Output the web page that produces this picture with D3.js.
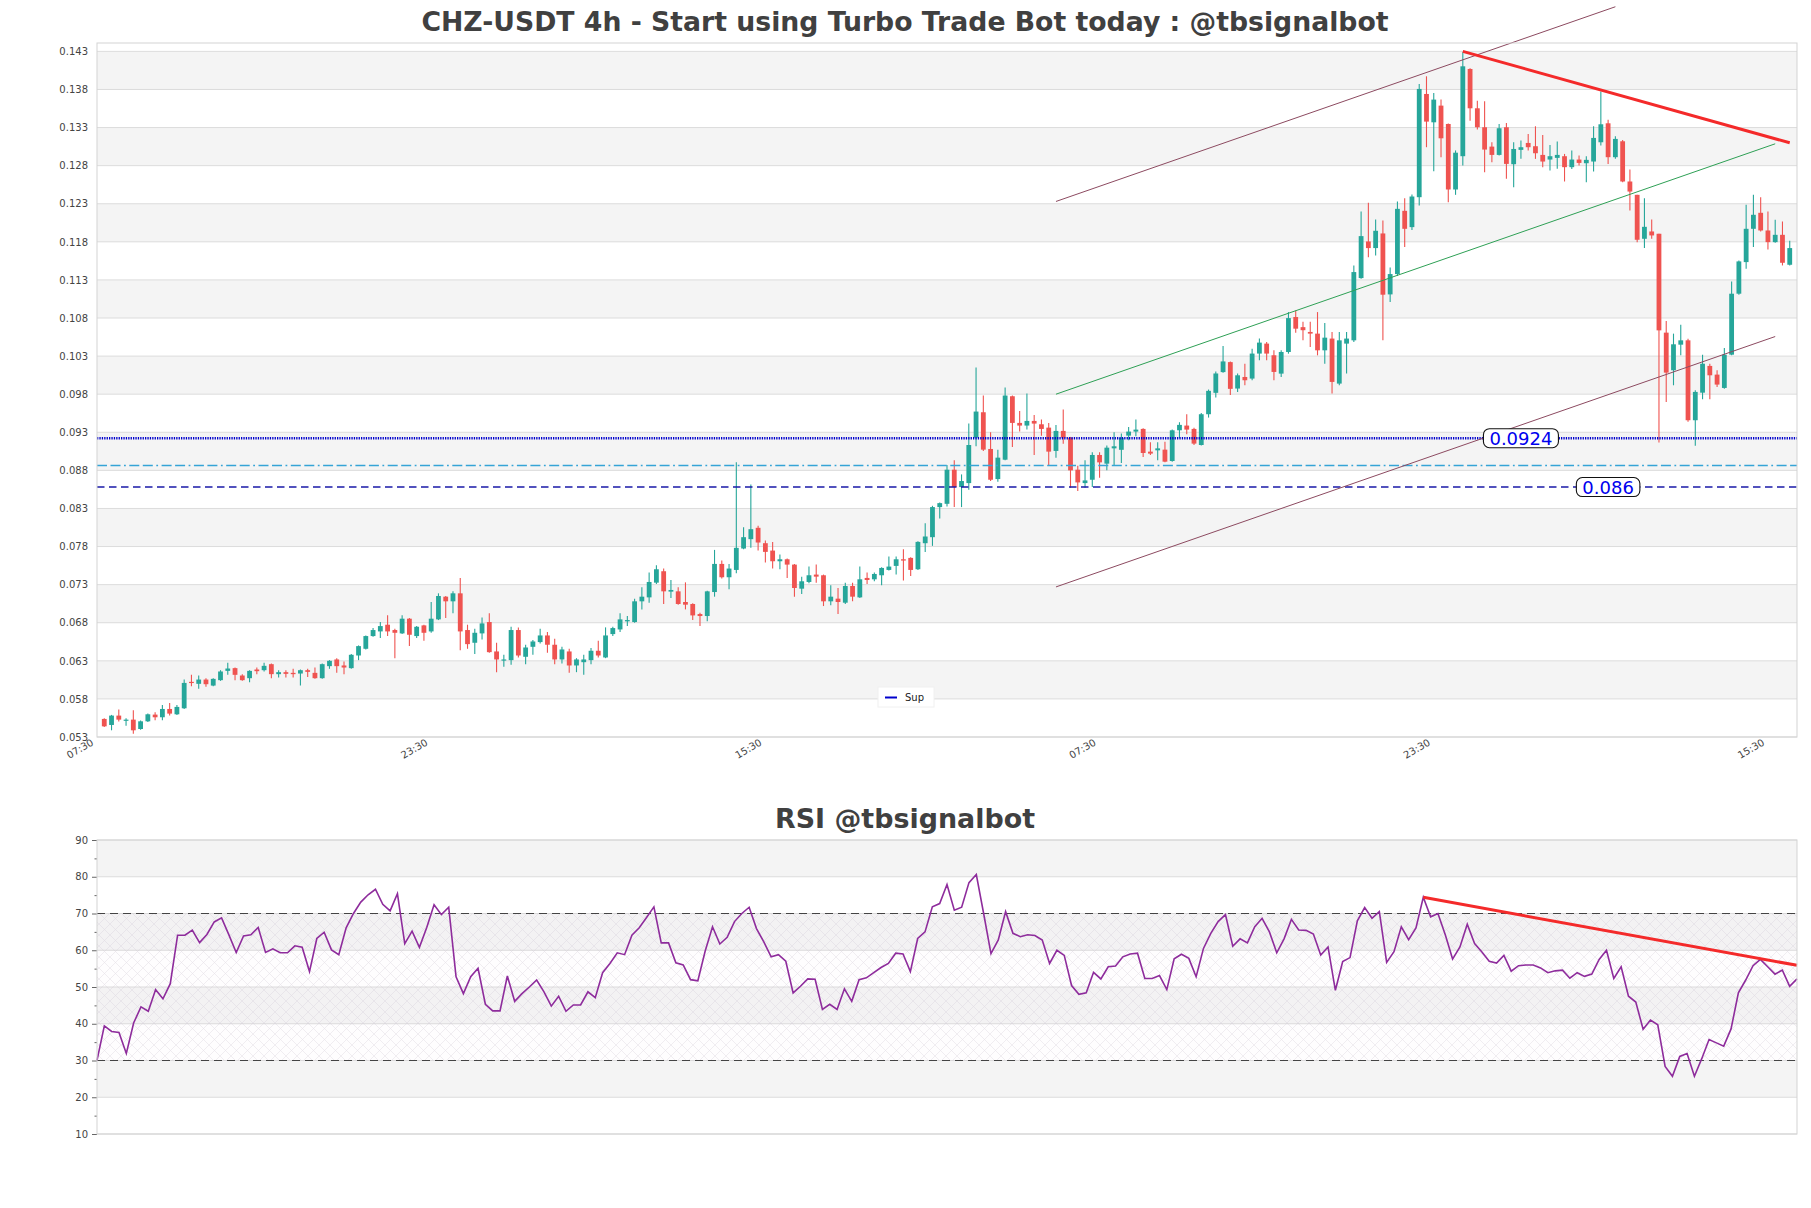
<!DOCTYPE html>
<html><head><meta charset="utf-8">
<script src="https://cdn.jsdelivr.net/npm/d3@7"></script>
<style>body{margin:0;background:#fff}svg{display:block}text{font-family:"DejaVu Sans",sans-serif}</style>
</head><body><svg id="chart" width="1811" height="1208"></svg>
<script>
const titleMain = "CHZ-USDT 4h - Start using Turbo Trade Bot today : @tbsignalbot";
const titleRsi = "RSI @tbsignalbot";
const priceTicks = [0.053,0.058,0.063,0.068,0.073,0.078,0.083,0.088,0.093,0.098,0.103,0.108,0.113,0.118,0.123,0.128,0.133,0.138,0.143];
const rsiTicks = [10,20,30,40,50,60,70,80,90];
const rsiMinorTicks = [15,25,35,45,55,65,75,85];
const xTickIndex = [-1,45,91,137,183,229];
const xTickLabels = ["07:30","23:30","15:30","07:30","23:30","15:30"];

const open = [0.05537,0.05458,0.05581,0.05515,0.05528,0.05405,0.05506,0.05594,0.05559,0.05668,0.05598,0.05677,0.06024,0.05998,0.06054,0.05975,0.06046,0.06168,0.06204,0.06107,0.06072,0.06186,0.06177,0.06256,0.06125,0.06151,0.06142,0.06133,0.06177,0.06142,0.06072,0.06230,0.06318,0.06239,0.06204,0.06370,0.06458,0.06625,0.06686,0.06774,0.06704,0.06660,0.06853,0.06625,0.06765,0.06686,0.06844,0.07142,0.07081,0.07186,0.06704,0.06537,0.06660,0.06809,0.06423,0.06304,0.06309,0.06704,0.06353,0.06484,0.06546,0.06633,0.06511,0.06318,0.06423,0.06239,0.06282,0.06309,0.06432,0.06344,0.06651,0.06712,0.06818,0.06809,0.07081,0.07133,0.07326,0.07476,0.07208,0.07212,0.07072,0.07046,0.06914,0.06888,0.07203,0.07572,0.07397,0.07493,0.07774,0.07897,0.08046,0.07844,0.07747,0.07607,0.07633,0.07563,0.07247,0.07335,0.07432,0.07423,0.07081,0.07116,0.07063,0.07282,0.07133,0.07388,0.07370,0.07423,0.07493,0.07546,0.07633,0.07651,0.07502,0.07844,0.07923,0.08318,0.08361,0.08809,0.08581,0.08633,0.09230,0.09563,0.09081,0.08686,0.08940,0.09773,0.09423,0.09388,0.09449,0.09405,0.09361,0.09055,0.09318,0.09230,0.08809,0.08633,0.08677,0.09002,0.08888,0.09089,0.09070,0.09256,0.09309,0.09344,0.09046,0.09063,0.09072,0.08923,0.09326,0.09388,0.09344,0.09133,0.09537,0.09818,0.10090,0.10221,0.09874,0.10026,0.10005,0.10333,0.10464,0.10311,0.10070,0.10354,0.10813,0.10680,0.10617,0.10595,0.10376,0.10530,0.09939,0.10464,0.10507,0.11324,0.11805,0.11718,0.11910,0.11110,0.11377,0.12207,0.11993,0.12386,0.13741,0.13369,0.13588,0.13347,0.12487,0.12924,0.14069,0.13553,0.13304,0.13050,0.12941,0.13304,0.12819,0.13007,0.13098,0.13055,0.12941,0.12880,0.12902,0.12924,0.12780,0.12880,0.12832,0.12854,0.13107,0.13356,0.12911,0.13120,0.12592,0.12417,0.11840,0.11936,0.11906,0.10608,0.10114,0.10450,0.10507,0.09458,0.09820,0.10171,0.10057,0.09882,0.10319,0.11119,0.11534,0.11971,0.12181,0.11949,0.11796,0.11892,0.11499];
const high = [0.05546,0.05590,0.05660,0.05546,0.05651,0.05515,0.05607,0.05625,0.05721,0.05747,0.05721,0.06054,0.06116,0.06107,0.06072,0.06072,0.06177,0.06274,0.06212,0.06125,0.06177,0.06212,0.06274,0.06265,0.06177,0.06177,0.06195,0.06186,0.06195,0.06212,0.06265,0.06309,0.06335,0.06291,0.06388,0.06502,0.06633,0.06730,0.06809,0.06897,0.06721,0.06897,0.06861,0.06756,0.06774,0.07072,0.07186,0.07151,0.07212,0.07388,0.06774,0.06721,0.06870,0.06923,0.06537,0.06379,0.06747,0.06739,0.06511,0.06572,0.06721,0.06677,0.06590,0.06484,0.06458,0.06335,0.06379,0.06467,0.06563,0.06739,0.06747,0.06923,0.06888,0.07116,0.07265,0.07458,0.07554,0.07511,0.07361,0.07265,0.07330,0.07055,0.06932,0.07221,0.07756,0.07616,0.07572,0.08905,0.08054,0.08616,0.08072,0.07879,0.07861,0.07695,0.07642,0.07572,0.07405,0.07537,0.07563,0.07432,0.07291,0.07256,0.07326,0.07326,0.07537,0.07458,0.07458,0.07528,0.07668,0.07668,0.07765,0.07660,0.07870,0.08107,0.08335,0.08379,0.08870,0.08932,0.08747,0.09414,0.10151,0.09782,0.09300,0.09072,0.09888,0.09782,0.09580,0.09809,0.09528,0.09467,0.09423,0.09397,0.09598,0.09239,0.08861,0.08932,0.09037,0.09037,0.09125,0.09300,0.09283,0.09370,0.09467,0.09353,0.09168,0.09168,0.09177,0.09335,0.09432,0.09537,0.09361,0.09554,0.09861,0.10098,0.10432,0.10230,0.10070,0.10201,0.10398,0.10530,0.10485,0.10376,0.10376,0.10878,0.10900,0.10750,0.10750,0.10878,0.10734,0.10617,0.10617,0.10617,0.11490,0.12198,0.12312,0.12094,0.12080,0.11464,0.12329,0.12373,0.12421,0.13872,0.13973,0.13754,0.13667,0.13352,0.13000,0.14287,0.14077,0.13653,0.13646,0.13107,0.13348,0.13361,0.13107,0.13129,0.13216,0.13317,0.13203,0.13072,0.13116,0.12954,0.13000,0.12932,0.12924,0.13317,0.13772,0.13404,0.13186,0.13138,0.12749,0.12417,0.12373,0.12094,0.11906,0.10760,0.10595,0.10712,0.10529,0.09852,0.10319,0.10201,0.10114,0.10406,0.11280,0.11556,0.12286,0.12417,0.12386,0.12198,0.12089,0.12067,0.11814];
const low = [0.05432,0.05388,0.05502,0.05449,0.05344,0.05396,0.05497,0.05519,0.05519,0.05581,0.05590,0.05668,0.05967,0.05932,0.05958,0.05967,0.06037,0.06116,0.06046,0.06037,0.06020,0.06125,0.06160,0.06072,0.06081,0.06081,0.06081,0.05975,0.06089,0.06063,0.06063,0.06195,0.06142,0.06125,0.06195,0.06309,0.06449,0.06616,0.06598,0.06625,0.06335,0.06651,0.06493,0.06598,0.06563,0.06668,0.06835,0.06861,0.06923,0.06440,0.06458,0.06388,0.06581,0.06405,0.06151,0.06221,0.06247,0.06344,0.06256,0.06379,0.06528,0.06405,0.06256,0.06265,0.06142,0.06151,0.06116,0.06256,0.06344,0.06335,0.06625,0.06677,0.06756,0.06800,0.06975,0.07063,0.07309,0.07046,0.07125,0.07037,0.06975,0.06835,0.06756,0.06818,0.07142,0.07380,0.07239,0.07449,0.07765,0.07783,0.07747,0.07589,0.07511,0.07502,0.07388,0.07142,0.07177,0.07318,0.07326,0.07019,0.07028,0.06914,0.07046,0.07081,0.07125,0.07309,0.07344,0.07291,0.07484,0.07432,0.07353,0.07414,0.07493,0.07730,0.07809,0.08168,0.08326,0.08318,0.08318,0.08546,0.09116,0.09055,0.08660,0.08650,0.08932,0.09107,0.09309,0.09335,0.09002,0.09256,0.08861,0.08967,0.09151,0.08572,0.08528,0.08572,0.08581,0.08704,0.08800,0.08861,0.08897,0.09195,0.09247,0.08976,0.09002,0.08932,0.08905,0.08914,0.09221,0.09274,0.09133,0.09125,0.09493,0.09756,0.10081,0.09791,0.09830,0.09917,0.09983,0.10245,0.10245,0.09983,0.10026,0.10332,0.10608,0.10507,0.10420,0.10310,0.10201,0.09808,0.09917,0.10070,0.10485,0.11316,0.11599,0.11621,0.10507,0.11009,0.11351,0.11731,0.11954,0.12277,0.13042,0.12727,0.12910,0.12321,0.12417,0.12801,0.13391,0.13273,0.12714,0.12845,0.12932,0.12627,0.12517,0.12889,0.12998,0.12889,0.12779,0.12736,0.12758,0.12592,0.12757,0.12801,0.12583,0.12723,0.13064,0.12823,0.12889,0.12583,0.12211,0.11796,0.11718,0.11840,0.09165,0.09699,0.09917,0.10310,0.09437,0.09122,0.09733,0.09733,0.09895,0.09873,0.10310,0.11106,0.11447,0.11731,0.11936,0.11700,0.11787,0.11490,0.11490];
const close = [0.05440,0.05581,0.05528,0.05528,0.05388,0.05506,0.05598,0.05559,0.05668,0.05607,0.05695,0.06010,0.06010,0.06054,0.05993,0.06063,0.06160,0.06199,0.06116,0.06046,0.06168,0.06164,0.06234,0.06125,0.06151,0.06129,0.06125,0.06177,0.06155,0.06072,0.06256,0.06300,0.06230,0.06212,0.06379,0.06493,0.06625,0.06704,0.06756,0.06686,0.06668,0.06853,0.06642,0.06747,0.06668,0.06853,0.07151,0.07081,0.07186,0.06686,0.06519,0.06668,0.06791,0.06414,0.06318,0.06318,0.06704,0.06370,0.06475,0.06554,0.06633,0.06511,0.06318,0.06449,0.06239,0.06318,0.06318,0.06432,0.06370,0.06633,0.06730,0.06844,0.06835,0.07081,0.07142,0.07335,0.07502,0.07212,0.07230,0.07046,0.07037,0.06896,0.06888,0.07212,0.07572,0.07397,0.07511,0.07783,0.07923,0.08028,0.07853,0.07730,0.07607,0.07633,0.07563,0.07256,0.07344,0.07423,0.07405,0.07081,0.07142,0.07072,0.07282,0.07142,0.07370,0.07361,0.07440,0.07519,0.07537,0.07633,0.07616,0.07493,0.07861,0.07932,0.08318,0.08370,0.08809,0.08581,0.08660,0.09133,0.09572,0.09072,0.08677,0.08967,0.09782,0.09423,0.09388,0.09449,0.09414,0.09344,0.09046,0.09318,0.09230,0.08800,0.08642,0.08668,0.09002,0.08905,0.09098,0.09116,0.09228,0.09309,0.09335,0.09028,0.09020,0.09089,0.08914,0.09326,0.09397,0.09335,0.09151,0.09537,0.09844,0.10072,0.10230,0.09870,0.10048,0.09983,0.10333,0.10477,0.10333,0.10092,0.10354,0.10799,0.10660,0.10640,0.10595,0.10376,0.10542,0.09961,0.10507,0.10530,0.11403,0.11875,0.11718,0.11945,0.11106,0.11377,0.12233,0.11971,0.12395,0.13807,0.13378,0.13667,0.13159,0.12487,0.12970,0.14104,0.13553,0.13304,0.13011,0.12941,0.13291,0.12823,0.13019,0.13042,0.13042,0.12963,0.12854,0.12924,0.12941,0.12780,0.12880,0.12836,0.12876,0.13164,0.13343,0.12911,0.13151,0.12592,0.12460,0.11827,0.11997,0.11884,0.10638,0.10083,0.10455,0.10507,0.09458,0.09830,0.10200,0.10048,0.09926,0.10319,0.11119,0.11543,0.11971,0.12155,0.11949,0.11796,0.11892,0.11525,0.11718];

const rsi = [30.05,39.4,37.9,37.6,31.9,40.2,44.6,43.4,49.3,46.8,50.9,64.1,64.1,65.5,62.1,64.3,67.7,68.8,64.2,59.4,63.9,64.2,66.2,59.4,60.4,59.3,59.3,61.2,60.8,54.2,63.2,64.9,60.1,58.8,66.1,70.0,73.1,75.1,76.6,72.5,70.7,75.4,61.8,65.2,60.8,66.2,72.4,69.7,71.7,52.8,48.2,52.8,55.1,45.3,43.5,43.5,53.0,46.1,48.2,50.0,51.9,48.7,44.8,47.5,43.4,45.1,45.1,48.7,47.1,53.9,56.4,59.3,
58.8,64.1,66.1,68.9,71.8,62.0,62.0,56.6,56.0,52.0,51.7,59.8,66.4,61.7,63.5,67.8,70.0,71.7,65.9,62.3,58.2,58.8,57.0,48.4,50.2,52.2,52.1,43.9,45.3,43.9,49.5,46.1,52.0,52.5,53.9,55.3,56.4,59.2,59.0,54.2,63.2,65.0,71.8,72.7,77.9,70.9,71.7,78.4,80.6,70.0,59.1,62.8,70.5,64.6,63.7,64.2,64.0,62.8,56.4,60.0,58.6,50.4,48.0,48.4,54.0,52.2,55.5,55.7,58.2,59.0,59.2,52.3,52.3,53.1,49.3,57.7,58.9,57.8,52.8,
60.5,64.6,67.8,69.7,61.1,63.1,62.0,66.4,68.7,65.0,59.3,63.1,68.4,65.5,65.4,64.4,58.7,60.9,49.1,56.9,58.0,68.0,71.6,68.7,70.5,56.7,59.6,66.4,62.9,66.1,74.4,69.1,70.0,64.2,57.6,60.9,67.1,61.8,59.5,57.0,56.5,58.6,54.3,55.8,56.0,56.0,55.2,53.9,54.4,54.6,52.4,53.9,52.9,53.5,57.5,60.0,52.3,55.5,47.5,45.9,38.5,41.0,39.7,28.4,25.7,31.1,31.9,25.7,30.5,35.7,34.8,33.9,38.6,48.4,51.9,55.8,57.5,55.5,53.5,54.6,50.2,52.2];

// horizontal levels as placed on the drawn axis, with their printed labels
const levelValues = [0.09222, 0.08863, 0.08581];
const levelLabels = ["0.0924", null, "0.086"];
const levelLabelIndex = [195, null, 207];
const channelUpper = [[131, 0.1233], [208, 0.14886]];
const channelMid = [[131, 0.0980], [230, 0.13087]];
const channelLower = [[131, 0.0727], [230, 0.10557]];
const priceTrend = [[187, 0.1430], [232, 0.1310]];
const rsiTrend = [[181, 74.4], [232, 55.9]];
const rsiBandLevels = [30, 70];

const W = 1811, H = 1208;
const M = {l: 97, r: 1797, t: 43, b: 737};
const R = {l: 97, r: 1797, t: 840, b: 1134};
const GREEN = "#26a69a", RED = "#ef5350";

const svg = d3.select("#chart");
svg.append("rect").attr("width", W).attr("height", H).attr("fill", "#fff");

const x = d3.scaleLinear().domain([-1, open.length]).range([M.l, M.r]);
const y = d3.scaleLinear().domain([0.053, 0.1441]).range([M.b, M.t]);
const xr = d3.scaleLinear().domain([0, rsi.length - 1]).range([R.l, R.r]);
const yr = d3.scaleLinear().domain([10, 90]).range([R.b, R.t]);

// Titles
svg.append("text").attr("x", 905).attr("y", 31).attr("text-anchor", "middle")
  .attr("font-size", 26.7).attr("font-weight", "bold").attr("fill", "#404040").text(titleMain);
svg.append("text").attr("x", 905).attr("y", 828).attr("text-anchor", "middle")
  .attr("font-size", 26.9).attr("font-weight", "bold").attr("fill", "#404040").text(titleRsi);

// ---------- main panel ----------
const gm = svg.append("g");
const bandPairs = d3.pairs(priceTicks).map((p, k) => ({lo: p[0], hi: p[1], k}));
gm.selectAll("rect.band").data(bandPairs.filter(d => d.k % 2 === 1)).join("rect")
  .attr("x", M.l).attr("width", M.r - M.l)
  .attr("y", d => y(d.hi)).attr("height", d => y(d.lo) - y(d.hi)).attr("fill", "#f4f4f4");
gm.selectAll("line.grid").data(priceTicks).join("line")
  .attr("x1", M.l).attr("x2", M.r).attr("y1", d => y(d)).attr("y2", d => y(d))
  .attr("stroke", "#dcdcdc").attr("stroke-width", 1);

// y axis
const yAxis = d3.axisLeft(y).tickValues(priceTicks).tickFormat(d3.format(".3f")).tickSize(0).tickPadding(9);
const gy = svg.append("g").attr("transform", `translate(${M.l},0)`).call(yAxis);
gy.select(".domain").remove();
gy.selectAll("text").attr("font-size", 10).attr("fill", "#444").attr("font-family", "DejaVu Sans");

// x axis
const xAxis = d3.axisBottom(x).tickValues(xTickIndex).tickFormat((d, k) => xTickLabels[k]).tickSize(0);
const gx = svg.append("g").attr("transform", `translate(0,${M.b})`).call(xAxis);
gx.select(".domain").remove();
gx.selectAll("text").attr("font-size", 10).attr("fill", "#444").attr("font-family", "DejaVu Sans")
  .attr("text-anchor", "end").attr("x", 0).attr("y", 0).attr("dy", "0.75em")
  .attr("transform", "translate(-7,1) rotate(-30)");

// candles
const idx = d3.range(open.length);
const bw = 4.8;
const gc = gm.append("g");
gc.selectAll("line.wick").data(idx).join("line")
  .attr("x1", i => x(i)).attr("x2", i => x(i))
  .attr("y1", i => y(high[i])).attr("y2", i => y(low[i]))
  .attr("stroke", i => close[i] >= open[i] ? GREEN : RED).attr("stroke-width", 1.1);
gc.selectAll("rect.body").data(idx).join("rect")
  .attr("x", i => x(i) - bw / 2).attr("width", bw)
  .attr("y", i => y(Math.max(open[i], close[i])))
  .attr("height", i => Math.max(1.2, Math.abs(y(open[i]) - y(close[i]))))
  .attr("fill", i => close[i] >= open[i] ? GREEN : RED);

// level lines
const levelStyles = [
  {stroke: "#0000cc", width: 2.4, dash: "1.3,1.1"},
  {stroke: "#35a4d6", width: 1.4, dash: "10,3.5,10,3.5,1.8,3.5"},
  {stroke: "#1a1aa8", width: 1.4, dash: "7.5,4.5"}
];
gm.selectAll("line.level").data(levelValues).join("line")
  .attr("x1", M.l).attr("x2", M.r).attr("y1", d => y(d)).attr("y2", d => y(d))
  .attr("stroke", (d, k) => levelStyles[k].stroke).attr("stroke-width", (d, k) => levelStyles[k].width)
  .attr("stroke-dasharray", (d, k) => levelStyles[k].dash);

// channel & trend lines
const line = d3.line().x(d => x(d[0])).y(d => y(d[1]));
gm.append("path").attr("d", line(channelUpper)).attr("stroke", "#8c4a60").attr("stroke-width", 1).attr("fill", "none");
gm.append("path").attr("d", line(channelLower)).attr("stroke", "#8c4a60").attr("stroke-width", 1).attr("fill", "none");
gm.append("path").attr("d", line(channelMid)).attr("stroke", "#2ea055").attr("stroke-width", 1).attr("fill", "none");
gm.append("path").attr("d", line(priceTrend)).attr("stroke", "#f42a2a").attr("stroke-width", 3).attr("fill", "none");

// level labels
levelValues.forEach((v, k) => {
  if (!levelLabels[k]) return;
  const cx = x(levelLabelIndex[k]), cy = y(v);
  const t = gm.append("text").attr("x", cx).attr("y", cy).attr("dy", "0.36em").attr("text-anchor", "middle")
    .attr("font-size", 18).attr("fill", "#0000ee").text(levelLabels[k]);
  const bb = t.node().getBBox();
  gm.insert("rect", () => t.node()).attr("x", bb.x - 6).attr("y", cy - 9.5).attr("width", bb.width + 12).attr("height", 19)
    .attr("rx", 6).attr("fill", "#fff").attr("stroke", "#111").attr("stroke-width", 1.1);
});

// legend
const lg = svg.append("g");
lg.append("rect").attr("x", 878).attr("y", 687).attr("width", 56).attr("height", 20).attr("fill", "#fff").attr("stroke", "#f0f0f0");
lg.append("line").attr("x1", 885).attr("x2", 897).attr("y1", 697.5).attr("y2", 697.5).attr("stroke", "#0000cc").attr("stroke-width", 2);
lg.append("text").attr("x", 905).attr("y", 701).attr("font-size", 10).attr("fill", "#222").text("Sup");

// frame
svg.append("rect").attr("x", M.l).attr("y", M.t).attr("width", M.r - M.l).attr("height", M.b - M.t)
  .attr("fill", "none").attr("stroke", "#d3d3d3").attr("stroke-width", 1);

// ---------- RSI panel ----------
const gr = svg.append("g");
const rsiPairs = d3.pairs(rsiTicks).map((p, k) => ({lo: p[0], hi: p[1], k}));
gr.selectAll("rect.band").data(rsiPairs.filter(d => d.k % 2 === 1)).join("rect")
  .attr("x", R.l).attr("width", R.r - R.l)
  .attr("y", d => yr(d.hi)).attr("height", d => yr(d.lo) - yr(d.hi)).attr("fill", "#f4f4f4");
gr.selectAll("line.grid").data(rsiTicks).join("line")
  .attr("x1", R.l).attr("x2", R.r).attr("y1", d => yr(d)).attr("y2", d => yr(d))
  .attr("stroke", "#dcdcdc").attr("stroke-width", 1);

const defs = svg.append("defs");
const pat = defs.append("pattern").attr("id", "hatch").attr("patternUnits", "userSpaceOnUse")
  .attr("width", 11).attr("height", 11);
pat.append("path").attr("d", "M0,0L11,11M11,0L0,11").attr("stroke", "#cfc6d4").attr("stroke-width", 0.6);
gr.append("rect").attr("x", R.l).attr("width", R.r - R.l)
  .attr("y", yr(rsiBandLevels[1])).attr("height", yr(rsiBandLevels[0]) - yr(rsiBandLevels[1]))
  .attr("fill", "rgba(128,60,150,0.012)");
gr.append("rect").attr("x", R.l).attr("width", R.r - R.l)
  .attr("y", yr(rsiBandLevels[1])).attr("height", yr(rsiBandLevels[0]) - yr(rsiBandLevels[1]))
  .attr("fill", "url(#hatch)").attr("opacity", 0.5);

gr.selectAll("line.ob").data(rsiBandLevels).join("line")
  .attr("x1", R.l).attr("x2", R.r).attr("y1", d => yr(d)).attr("y2", d => yr(d))
  .attr("stroke", "#444").attr("stroke-width", 1.2).attr("stroke-dasharray", "8,5");

const rline = d3.line().x((d, i) => xr(i)).y(d => yr(d));
gr.append("path").attr("d", rline(rsi)).attr("stroke", "#8e2c9c").attr("stroke-width", 1.6).attr("fill", "none");
const rtl = d3.line().x(d => xr(d[0])).y(d => yr(d[1]));
gr.append("path").attr("d", rtl(rsiTrend)).attr("stroke", "#f42a2a").attr("stroke-width", 3).attr("fill", "none");

const yrAxis = d3.axisLeft(yr).tickValues(rsiTicks).tickSize(5).tickPadding(4);
const gyr = svg.append("g").attr("transform", `translate(${R.l},0)`).call(yrAxis);
gyr.select(".domain").remove();
gyr.selectAll("line").attr("stroke", "#666");
gyr.selectAll("text").attr("font-size", 10).attr("fill", "#444").attr("font-family", "DejaVu Sans");
const yrMinor = d3.axisLeft(yr).tickValues(rsiMinorTicks).tickSize(2.5).tickFormat("");
const gyrm = svg.append("g").attr("transform", `translate(${R.l},0)`).call(yrMinor);
gyrm.select(".domain").remove();
gyrm.selectAll("line").attr("stroke", "#666");

svg.append("rect").attr("x", R.l).attr("y", R.t).attr("width", R.r - R.l).attr("height", R.b - R.t)
  .attr("fill", "none").attr("stroke", "#d3d3d3").attr("stroke-width", 1);
</script></body></html>
